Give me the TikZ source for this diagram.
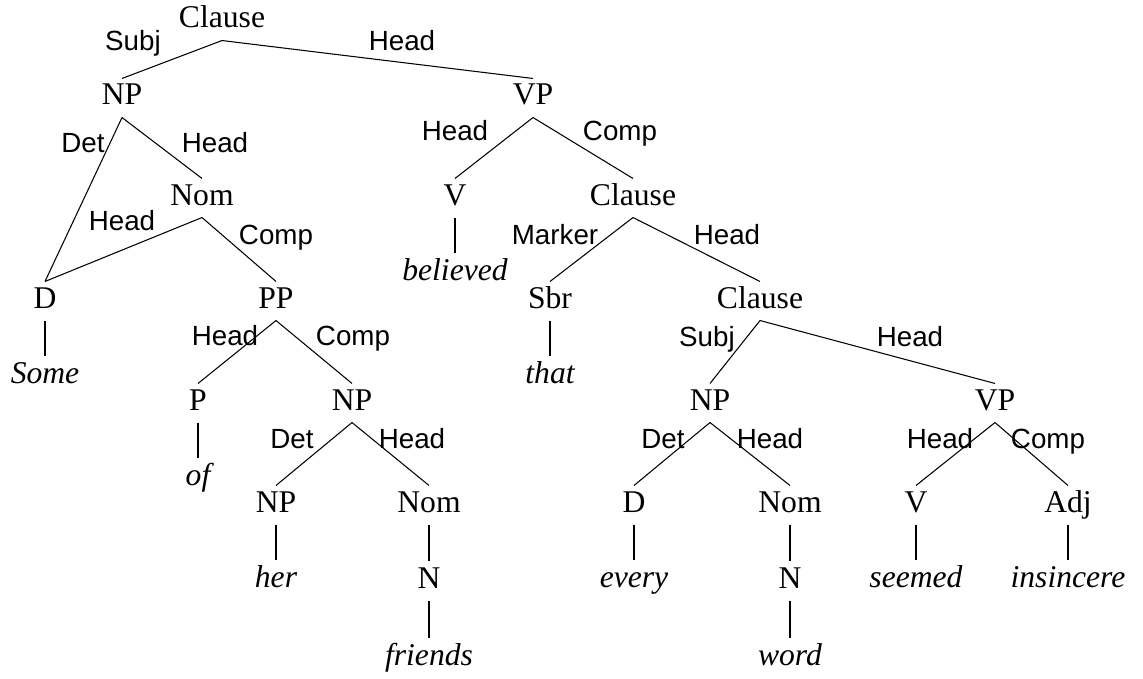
\documentclass[tikz,border=0pt]{standalone}
\usepackage{fontspec}
\setmainfont{Liberation Serif}
\setsansfont{Liberation Sans}
\tikzset{
  cat/.style={inner sep=0pt, anchor=base, text height=0.52cm, text depth=0.24cm, font=\fontsize{18}{20}\selectfont},
  word/.style={cat, font=\fontsize{18}{20}\selectfont\itshape},
  fn/.style={inner sep=0pt, anchor=base, font=\sffamily\fontsize{15.8}{18}\selectfont},
}
\begin{document}
\begin{tikzpicture}[x=0.02cm, y=-0.02cm, line width=0.6pt]
\useasboundingbox (0,0) rectangle (1143,679);
%%%%%%%%%%%%%%%%%%%%%%%%%%%%%%% top clause
\node[cat](clause) at (222,28){Clause};
\node[cat](np) at (122,105){NP};
\node[cat](vp) at (533,105){VP};
\node[fn](subj) at (133,51){Subj};
\node[fn](headvp) at (402,51){Head};
\draw (clause.south) -- (np.north);
\draw (clause.south) -- (vp.north);
%%%%%%%%%%%%%%%%%%%%%%%%%%%%%%% subject NP
\node[cat](d1) at (45,308){D};
\node[cat](nom1) at (202,205){Nom};
\node[word](some) at (45,383){Some};
\node[fn](det1) at (83,153){Det};
\node[fn](headnom1) at (215,153){Head};
\draw (np.south) -- (d1.north);
\draw (np.south) -- (nom1.north);
\draw (d1.south) -- (some.north);
\node[cat](pp) at (276,308){PP};
\node[fn](headd1) at (122,230){Head};
\node[fn](comppp) at (276,244){Comp};
\draw (nom1.south) -- (d1.north);
\draw (nom1.south) -- (pp.north);
\node[cat](p) at (198,410){P};
\node[cat](np2) at (352,410){NP};
\node[word](of) at (198,485){of};
\node[fn](headp) at (225,345){Head};
\node[fn](compnp2) at (353,345){Comp};
\draw (pp.south) -- (p.north);
\draw (pp.south) -- (np2.north);
\draw (p.south) -- (of.north);
\node[cat](np3) at (276,512){NP};
\node[cat](nom2) at (429,512){Nom};
\node[word](her) at (276,587){her};
\node[cat](n1) at (429,588){N};
\node[word](friends) at (429,665){friends};
\node[fn](det2) at (292,448){Det};
\node[fn](headnom2) at (412,448){Head};
\draw (np2.south) -- (np3.north);
\draw (np2.south) -- (nom2.north);
\draw (np3.south) -- (her.north);
\draw (nom2.south) -- (n1.north);
\draw (n1.south) -- (friends.north);
%%%%%%%%%%%%%%%%%%%%%%%%%%%%%%% VP
\node[cat](v1) at (455,205){V};
\node[cat](clause2) at (633,205){Clause};
\node[word](believed) at (455,280){believed};
\node[fn](headv1) at (455,141){Head};
\node[fn](compcl2) at (620,141){Comp};
\draw (vp.south) -- (v1.north);
\draw (vp.south) -- (clause2.north);
\draw (v1.south) -- (believed.north);
\node[cat](sbr) at (550,308){Sbr};
\node[cat](clause3) at (760,308){Clause};
\node[word](that) at (550,383){that};
\node[fn](marker) at (555,244){Marker};
\node[fn](headcl3) at (727,244){Head};
\draw (clause2.south) -- (sbr.north);
\draw (clause2.south) -- (clause3.north);
\draw (sbr.south) -- (that.north);
%%%%%%%%%%%%%%%%%%%%%%%%%%%%%%% embedded clause
\node[cat](np4) at (710,410){NP};
\node[cat](vp2) at (995,410){VP};
\node[fn](subj2) at (707,346){Subj};
\node[fn](headvp2) at (910,346){Head};
\draw (clause3.south) -- (np4.north);
\draw (clause3.south) -- (vp2.north);
\node[cat](d2) at (634,512){D};
\node[cat](nom3) at (790,512){Nom};
\node[word](every) at (634,587){every};
\node[cat](n2) at (790,588){N};
\node[word](word) at (790,665){word};
\node[fn](det3) at (663,448){Det};
\node[fn](headnom3) at (770,448){Head};
\draw (np4.south) -- (d2.north);
\draw (np4.south) -- (nom3.north);
\draw (d2.south) -- (every.north);
\draw (nom3.south) -- (n2.north);
\draw (n2.south) -- (word.north);
\node[cat](v2) at (916,512){V};
\node[cat](adj) at (1068,512){Adj};
\node[word](seemed) at (916,587){seemed};
\node[word](insincere) at (1068,587){insincere};
\node[fn](headv2) at (940,448){Head};
\node[fn](compadj) at (1048,448){Comp};
\draw (vp2.south) -- (v2.north);
\draw (vp2.south) -- (adj.north);
\draw (v2.south) -- (seemed.north);
\draw (adj.south) -- (insincere.north);
\end{tikzpicture}
\end{document}
